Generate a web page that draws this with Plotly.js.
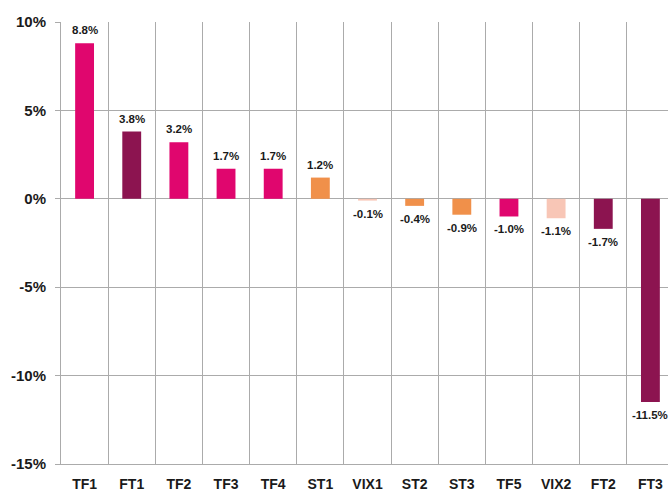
<!DOCTYPE html>
<html>
<head>
<meta charset="utf-8">
<script src="https://cdn.plot.ly/plotly-3.0.1.min.js"></script>
<style>
html,body{margin:0;padding:0;overflow:hidden;background:#fff;}
#chart{width:674px;height:492px;}
</style>
</head>
<body>
<div id="chart"></div>
<script>
const categories = ['TF1','FT1','TF2','TF3','TF4','ST1','VIX1','ST2','ST3','TF5','VIX2','FT2','FT3'];
const values = [8.8, 3.8, 3.2, 1.7, 1.7, 1.2, -0.1, -0.4, -0.9, -1.0, -1.1, -1.7, -11.5];
const yTickVals = [-15, -10, -5, 0, 5, 10];
const yTickText = ['-15%', '-10%', '-5%', '0%', '5%', '10%'];

const groupColors = {TF: '#E0066E', FT: '#8C1450', ST: '#F0904A', VIX: '#F8C6B6'};
const colors = categories.map(c => groupColors[c.replace(/[0-9]/g, '')]);
const labels = values.map(v => v.toFixed(1) + '%');

const trace = {
  type: 'bar',
  x: categories,
  y: values,
  marker: {color: colors},
  hoverinfo: 'none'
};

const annotations = categories.map((c, i) => ({
  x: c, y: values[i], xref: 'x', yref: 'y',
  text: labels[i], showarrow: false,
  yanchor: values[i] >= 0 ? 'bottom' : 'top',
  yshift: values[i] >= 0 ? 5 : -5,
  font: {family: 'Liberation Sans, Arial, sans-serif', size: 11.5, color: '#1a1a1a', weight: 'bold'}
}));

const layout = {
  width: 674, height: 492,
  margin: {l: 61, r: 0, t: 22, b: 28},
  paper_bgcolor: '#fff', plot_bgcolor: '#fff',
  showlegend: false,
  bargap: 0.6,
  annotations: annotations,
  font: {family: 'Liberation Sans, Arial, sans-serif', color: '#1a1a1a'},
  xaxis: {
    type: 'category',
    tickson: 'boundaries',
    showgrid: true, gridcolor: '#ABABAB', gridwidth: 1,
    showline: true, linecolor: '#ABABAB', linewidth: 1,
    ticks: '', ticklabelstandoff: 7,
    tickfont: {size: 14, weight: 'bold', color: '#1a1a1a'},
    automargin: false, fixedrange: true
  },
  yaxis: {
    range: [-15, 10],
    tickvals: yTickVals, ticktext: yTickText,
    showgrid: true, gridcolor: '#ABABAB', gridwidth: 1,
    zeroline: true, zerolinecolor: '#ABABAB', zerolinewidth: 1,
    showline: true, linecolor: '#ABABAB', linewidth: 1,
    ticks: 'outside', ticklen: 5, tickcolor: '#ABABAB',
    ticklabelstandoff: 6,
    tickfont: {size: 15, weight: 'bold', color: '#1a1a1a'},
    automargin: false, fixedrange: true
  }
};

Plotly.newPlot('chart', [trace], layout, {displayModeBar: false, staticPlot: true});
</script>
</body>
</html>
